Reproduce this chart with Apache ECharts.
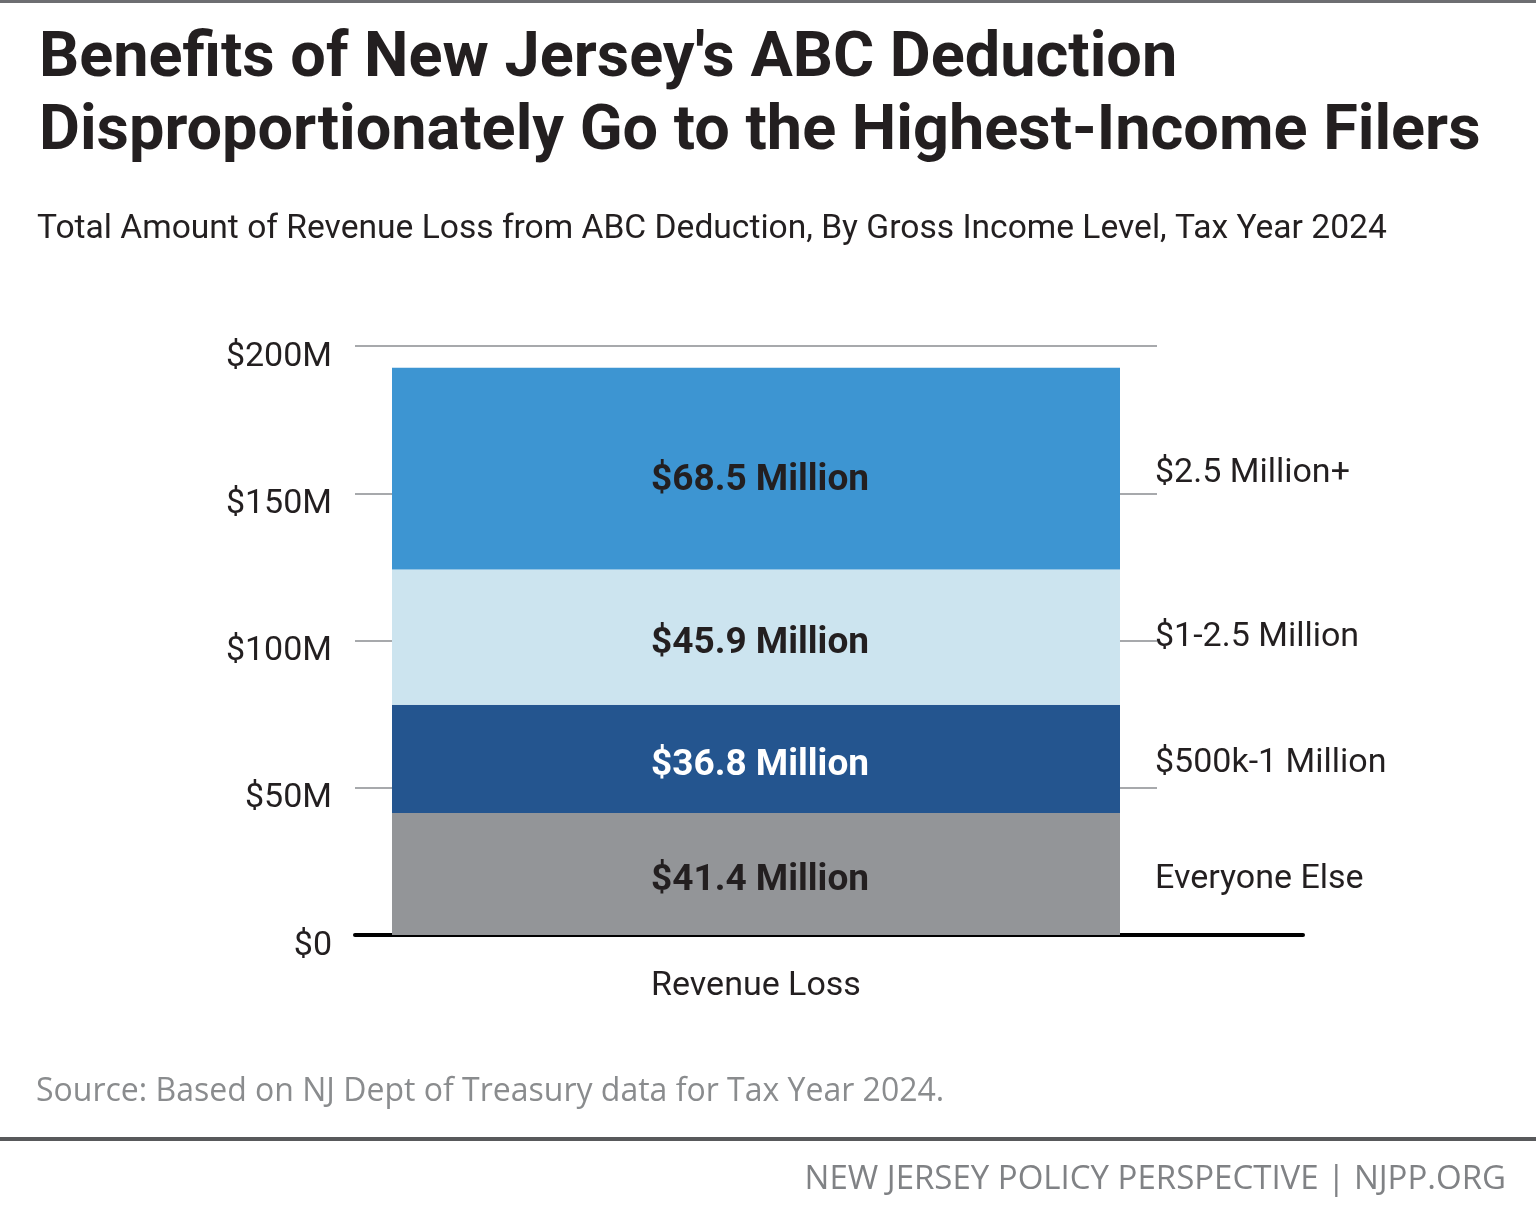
<!DOCTYPE html>
<html>
<head>
<meta charset="utf-8">
<script src="https://cdn.jsdelivr.net/npm/echarts@6/dist/echarts.min.js"></script>
<style>
html,body{margin:0;padding:0;background:#fff;}
#chart{width:1536px;height:1217px;}
</style>
</head>
<body>
<div id="chart"></div>
<script>
const categories = ['Revenue Loss'];
const groups = ['Everyone Else', '$500k-1 Million', '$1-2.5 Million', '$2.5 Million+'];
const values = [41.4, 36.8, 45.9, 68.5];
const segmentColors = ['#939598', '#24558F', '#CCE4EF', '#3D95D2'];
const insideLabelColors = ['#231F20', '#FFFFFF', '#231F20', '#231F20'];
const yTickValues = [0, 50, 100, 150, 200];

const titleText = "Benefits of New Jersey's ABC Deduction\nDisproportionately Go to the Highest-Income Filers";
const subtitleText = 'Total Amount of Revenue Loss from ABC Deduction, By Gross Income Level, Tax Year 2024';
const sourceText = 'Source: Based on NJ Dept of Treasury data for Tax Year 2024.';
const footerText = 'NEW JERSEY POLICY PERSPECTIVE | NJPP.ORG';

const COND = 'Roboto, sans-serif';

const chart = echarts.init(document.getElementById('chart'), null, {renderer: 'canvas'});

const valueSeries = groups.map((g, i) => ({
  name: g,
  type: 'bar',
  stack: 'values',
  xAxisIndex: 0, yAxisIndex: 0,
  barWidth: 728,
  barGap: '-100%',
  data: [values[i]],
  itemStyle: {color: segmentColors[i]},
  label: {
    show: true, position: 'inside',
    formatter: p => '$' + p.value.toFixed(1) + ' Million',
    color: insideLabelColors[i],
    fontFamily: COND, fontWeight: 'bold', fontSize: 37,
    offset: [4, i === 3 ? 12 : 7]
  },
  emphasis: {disabled: true},
  silent: true
}));

const nameSeries = groups.map((g, i) => ({
  name: g + ' name',
  type: 'bar',
  stack: 'names',
  xAxisIndex: 0, yAxisIndex: 0,
  barWidth: 728,
  barGap: '-100%',
  data: [values[i]],
  itemStyle: {color: 'rgba(0,0,0,0)'},
  label: {
    show: true, position: 'right', distance: 35,
    formatter: () => g,
    color: '#231F20',
    fontFamily: COND, fontSize: 34,
    offset: [0, i === 2 ? 0 : 5]
  },
  emphasis: {disabled: true},
  silent: true,
  z: 1
}));

const option = {
  backgroundColor: '#fff',
  animation: false,
  title: [
    {text: titleText, left: 34, top: 19,
     textStyle: {fontFamily: 'Roboto, sans-serif', fontWeight: 'bold', fontSize: 63, lineHeight: 73, color: '#231F20'}},
    {text: subtitleText, left: 32, top: 208,
     textStyle: {fontFamily: COND, fontWeight: 'normal', fontSize: 33.6, color: '#231F20'}},
    {text: sourceText, left: 31, top: 1071,
     textStyle: {fontFamily: '"Open Sans", sans-serif', fontWeight: 'normal', fontSize: 32, color: '#8A8C8E'}},
    {text: footerText, right: 25, top: 1158,
     textStyle: {fontFamily: '"Open Sans", sans-serif', fontWeight: 'normal', fontSize: 33, color: '#808285'}}
  ],
  graphic: [
    {type: 'rect', shape: {x: 0, y: 0, width: 1536, height: 3}, style: {fill: '#6D6E71'}},
    {type: 'rect', shape: {x: 0, y: 1137, width: 1536, height: 4}, style: {fill: '#58595B'}}
  ],
  grid: [
    {left: 355, right: 379, top: 346, bottom: 282, containLabel: false},
    {left: 355, right: 233, top: 346, bottom: 282, containLabel: false}
  ],
  xAxis: [
    {type: 'category', gridIndex: 0, data: categories,
     axisLine: {show: false}, axisTick: {show: false},
     axisLabel: {margin: 34, color: '#231F20', fontFamily: COND, fontSize: 34}},
    {type: 'category', gridIndex: 1, data: categories,
     axisLine: {show: true, lineStyle: {color: '#000', width: 4}}, axisTick: {show: false},
     axisLabel: {show: false}}
  ],
  yAxis: [
    {type: 'value', gridIndex: 0, min: 0, max: 200, interval: 50,
     axisLine: {show: false}, axisTick: {show: false},
     splitLine: {show: true, lineStyle: {color: '#A7A9AC', width: 2}},
     axisLabel: {margin: 23, color: '#231F20', fontFamily: COND, fontSize: 34,
       verticalAlign: 'top', lineHeight: 22,
       formatter: v => yTickValues.includes(v) ? (v === 0 ? '$0' : '$' + v + 'M') : ''}},
    {type: 'value', gridIndex: 1, min: 0, max: 200, interval: 50, show: false,
     splitLine: {show: false}}
  ],
  series: [...valueSeries, ...nameSeries]
};
chart.setOption(option);
</script>
</body>
</html>
